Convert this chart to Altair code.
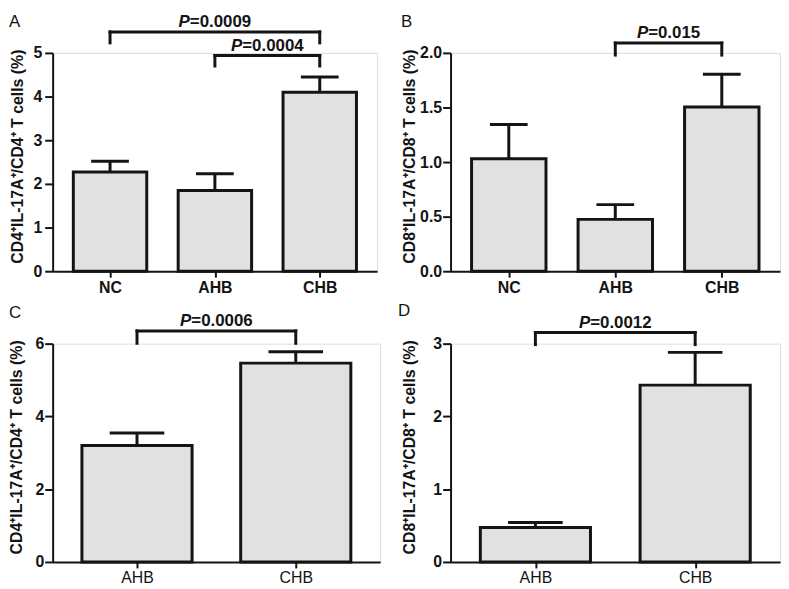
import altair as alt
import pandas as pd

FONT = "Liberation Sans"
INK = "#141414"
FILL = "#e1e1e1"

# ---------------- data ----------------
a_cats = ["NC", "AHB", "CHB"]
a_means = [2.27, 1.85, 4.10]
a_tops = [2.52, 2.23, 4.45]
a_br_from = [0, 1]
a_br_to = [2, 2]
a_br_y = [5.48, 4.94]
a_br_leg = [5.23, 4.70]
a_br_p = ["=0.0009", "=0.0004"]
a_yticks = [0, 1, 2, 3, 4, 5]

b_cats = ["NC", "AHB", "CHB"]
b_means = [1.03, 0.475, 1.505]
b_tops = [1.345, 0.61, 1.805]
b_br_from = [1]
b_br_to = [2]
b_br_y = [2.09]
b_br_leg = [1.98]
b_br_p = ["=0.015"]
b_yticks = [0.0, 0.5, 1.0, 1.5, 2.0]

c_cats = ["AHB", "CHB"]
c_means = [3.20, 5.465]
c_tops = [3.545, 5.78]
c_br_from = [0]
c_br_to = [1]
c_br_y = [6.35]
c_br_leg = [6.01]
c_br_p = ["=0.0006"]
c_yticks = [0, 2, 4, 6]

d_cats = ["AHB", "CHB"]
d_means = [0.474, 2.43]
d_tops = [0.542, 2.88]
d_br_from = [0]
d_br_to = [1]
d_br_y = [3.153]
d_br_leg = [2.987]
d_br_p = ["=0.0012"]
d_yticks = [0, 1, 2, 3]

TITLE_CD4 = "CD4\u207aIL-17A\u207a/CD4\u207a T cells (%)"
TITLE_CD8 = "CD8\u207aIL-17A\u207a/CD8\u207a T cells (%)"

# approximate Arial-bold advance widths (em) to centre "P" + "=value"
W = {"P": 0.667, "=": 0.584, ".": 0.278}
P_FS = 17


def text_w(s):
    return sum(W.get(ch, 0.556) for ch in s) * P_FS


def panel(letter, cats, means, tops, bfrom, bto, by, bleg, bp, ymax, yticks, yfmt,
          ytitle, width, bar_px, cap_px, xbold, ylab_pad, title_x, letter_x, letter_y,
          xlab_pad):
    n = len(cats)
    xs = alt.Scale(domain=[-0.5, n - 0.5], nice=False, zero=False)
    ys = alt.Scale(domain=[0, ymax], nice=False, zero=True)
    label_expr = "[" + ",".join("'%s'" % c for c in cats) + "][datum.value]"

    bars_df = pd.DataFrame({"pos": list(range(n)), "cat": cats, "mean": means, "top": tops})
    br_df = pd.DataFrame({"x1": bfrom, "x2": bto, "y": by, "leg": bleg, "p": bp})
    legs_df = pd.DataFrame({"pos": bfrom + bto, "y": by + by, "leg": bleg + bleg})
    let_df = pd.DataFrame({"letter": [letter]})

    xaxis = alt.Axis(values=list(range(n)), labelExpr=label_expr, title=None, grid=False,
                     domainColor=INK, domainWidth=2, tickColor=INK, tickWidth=2, tickSize=6,
                     labelFont=FONT, labelFontSize=16,
                     labelFontWeight="bold" if xbold else "normal",
                     labelColor=INK, labelPadding=xlab_pad, labelFlush=False,
                     labelOverlap=False)
    yaxis = alt.Axis(values=yticks, format=yfmt, title=ytitle, grid=False,
                     domainColor=INK, domainWidth=2, tickColor=INK, tickWidth=2, tickSize=8,
                     labelFont=FONT, labelFontSize=16, labelFontWeight="bold", labelColor=INK,
                     labelPadding=ylab_pad, labelFlush=False, labelOverlap=False,
                     titleFont=FONT, titleFontSize=16, titleFontWeight="bold",
                     titleColor=INK, titleAngle=270, titleBaseline="bottom",
                     titleAlign="center", titleX=title_x, titleY=104)

    bars = alt.Chart(bars_df).mark_bar(size=bar_px, fill=FILL, stroke=INK, strokeWidth=3).encode(
        x=alt.X("pos:Q", scale=xs, axis=xaxis),
        y=alt.Y("mean:Q", scale=ys, axis=yaxis),
    )
    err = alt.Chart(bars_df).mark_rule(color=INK, strokeWidth=3).encode(
        x=alt.X("pos:Q", scale=xs, title=None),
        y=alt.Y("mean:Q", scale=ys, title=ytitle),
        y2="top:Q",
    )
    caps = alt.Chart(bars_df).mark_tick(orient="horizontal", size=cap_px, thickness=3,
                                        color=INK, opacity=1).encode(
        x=alt.X("pos:Q", scale=xs, title=None),
        y=alt.Y("top:Q", scale=ys, title=ytitle),
    )
    br_h = alt.Chart(br_df).mark_rule(color=INK, strokeWidth=3, strokeCap="square").encode(
        x=alt.X("x1:Q", scale=xs, title=None),
        x2="x2:Q",
        y=alt.Y("y:Q", scale=ys, title=ytitle),
    )
    br_v = alt.Chart(legs_df).mark_rule(color=INK, strokeWidth=3, strokeCap="square").encode(
        x=alt.X("pos:Q", scale=xs, title=None),
        y=alt.Y("leg:Q", scale=ys, title=ytitle),
        y2="y:Q",
    )
    wp = W["P"] * P_FS
    wr = max(text_w(s) for s in bp)
    shift = (wp - wr) / 2
    p_it = alt.Chart(br_df).transform_calculate(mid="(datum.x1 + datum.x2) / 2").mark_text(
        text="P", font=FONT, fontSize=P_FS, fontWeight="bold", fontStyle="italic",
        align="right", baseline="alphabetic", dx=shift, dy=-5, color=INK).encode(
        x=alt.X("mid:Q", scale=xs, title=None),
        y=alt.Y("y:Q", scale=ys, title=ytitle),
    )
    p_val = alt.Chart(br_df).transform_calculate(mid="(datum.x1 + datum.x2) / 2").mark_text(
        font=FONT, fontSize=P_FS, fontWeight="bold",
        align="left", baseline="alphabetic", dx=shift, dy=-5, color=INK).encode(
        x=alt.X("mid:Q", scale=xs, title=None),
        y=alt.Y("y:Q", scale=ys, title=ytitle),
        text="p:N",
    )
    let = alt.Chart(let_df).mark_text(font=FONT, fontSize=17, align="left",
                                      baseline="alphabetic", color=INK).encode(
        x=alt.value(letter_x), y=alt.value(letter_y), text="letter:N")

    return alt.layer(bars, err, caps, br_h, br_v, p_it, p_val, let).properties(
        width=width, height=220)


A = panel("A", a_cats, a_means, a_tops, a_br_from, a_br_to, a_br_y, a_br_leg, a_br_p,
          5, a_yticks, "d", TITLE_CD4, 327, 74, 38, True, 3, -27, -44, -26, 2)
B = panel("B", b_cats, b_means, b_tops, b_br_from, b_br_to, b_br_y, b_br_leg, b_br_p,
          2, b_yticks, ".1f", TITLE_CD8, 332, 75, 38, True, 1, -33, -50, -26, 2)
C = panel("C", c_cats, c_means, c_tops, c_br_from, c_br_to, c_br_y, c_br_leg, c_br_p,
          6, c_yticks, "d", TITLE_CD4, 330, 111, 55, False, 1, -28, -44, -26, 2)
D = panel("D", d_cats, d_means, d_tops, d_br_from, d_br_to, d_br_y, d_br_leg, d_br_p,
          3, d_yticks, "d", TITLE_CD8, 332, 111, 55, False, 1, -33, -53, -28, 2)

chart = alt.concat(A, B, C, D, columns=2, spacing={"row": 73, "column": 71},
                   bounds="flush").properties(
    padding={"left": 0, "top": 2, "right": 0, "bottom": 0}
).configure_view(stroke=None).configure(font=FONT)

chart.save("out.html", embed_options={"renderer": "svg", "actions": False})
